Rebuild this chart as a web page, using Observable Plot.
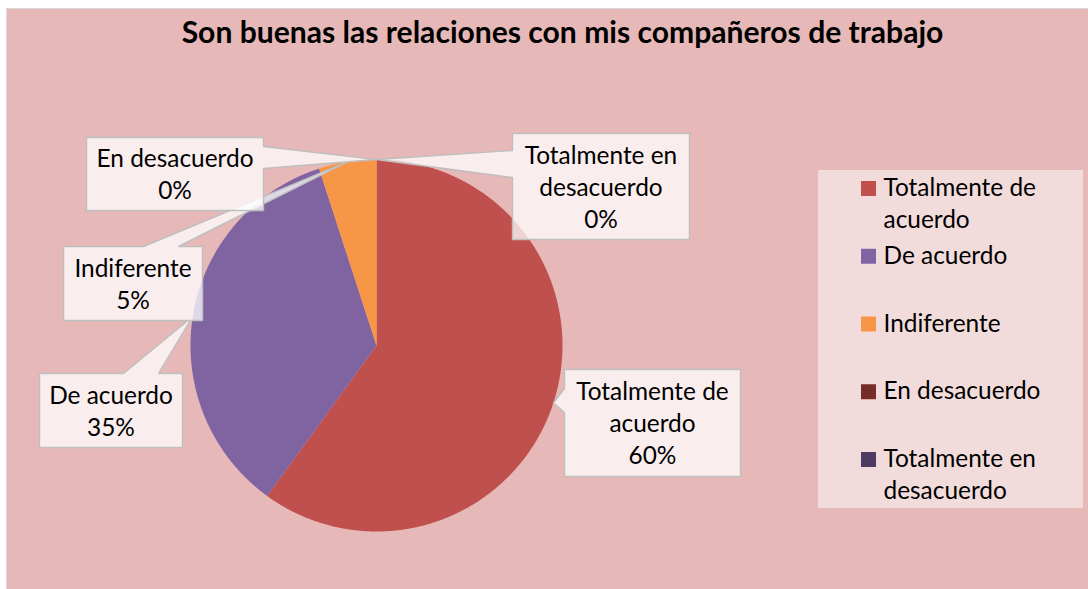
<!DOCTYPE html>
<html><head><meta charset="utf-8">
<script src="https://cdn.jsdelivr.net/npm/d3@7"></script>
<script src="https://cdn.jsdelivr.net/npm/@observablehq/plot@0.6"></script>
<style>
html,body{margin:0;padding:0;background:#fff;}
#wrap{position:relative;width:1088px;height:589px;overflow:hidden;}
#frame{position:absolute;left:6px;top:8px;right:0;bottom:0;background:#E6B8B7;border-left:1px solid #D9D9D9;border-top:1px solid #D9D9D9;}
#chart{position:absolute;left:0;top:0;}
</style></head>
<body><div id="wrap"><div id="frame"></div><div id="chart"></div></div>
<script>
// ---- data ----
const titleText = "Son buenas las relaciones con mis compañeros de trabajo";
const categories = ["Totalmente de acuerdo", "De acuerdo", "Indiferente", "En desacuerdo", "Totalmente en desacuerdo"];
const percentages = [60, 35, 5, 0, 0];

// ---- styles / layout ----
const colors = ["#C0504D", "#8064A2", "#F79646", "#772C2A", "#4D3B62"];
const W = 1088, H = 589;
const pieCenter = [376, 345], pieRadius = 186;
const calloutLayout = [
  {box: [564, 369, 740, 476], side: "left", base: [388, 412]},
  {box: [39, 373, 182, 447], side: "top", base: [123, 158]},
  {box: [63, 246, 202, 320], side: "top", base: [143, 178]},
  {box: [86, 137, 263, 210], side: "right", base: [146, 168]},
  {box: [512, 133, 689, 239], side: "left", base: [150, 177]}
];
const legendBox = [818, 170, 1083, 508];
const legendSwatchX = [861, 876], legendTextX = 883, legendTop = 188.5, legendStep = 67.75;
const lineStep = 32;

(async function () {
  try { await document.fonts.load("100px Lato"); await document.fonts.load("bold 100px Lato"); } catch (e) {}
  const ctx = document.createElement("canvas").getContext("2d");
  const measure = (t, font) => { ctx.font = font; return ctx.measureText(t).width; };
  const labelFs = 157 / measure("En desacuerdo", "100px Lato") * 100;
  const titleFs = 762 / measure(titleText, "bold 100px Lato") * 100;
  const wrap = (t, maxW) => {
    const words = t.split(" "); const lines = []; let cur = "";
    for (const w of words) {
      const test = cur ? cur + " " + w : w;
      if (cur && measure(test, `${labelFs}px Lato`) > maxW) { lines.push(cur); cur = w; } else cur = test;
    }
    if (cur) lines.push(cur);
    return lines;
  };

  // pie geometry from the data
  const arcs = d3.pie().sort(null).startAngle(0).endAngle(2 * Math.PI)(percentages);
  const px = a => pieCenter[0] + pieRadius * Math.sin(a);
  const py = a => pieCenter[1] - pieRadius * Math.cos(a);
  const sliceMarks = [];
  arcs.forEach((arc, i) => {
    if (arc.endAngle - arc.startAngle <= 0) return;
    const pts = [{x: pieCenter[0], y: pieCenter[1]}];
    const n = Math.max(2, Math.ceil((arc.endAngle - arc.startAngle) / 0.005));
    for (let k = 0; k <= n; k++) {
      const a = arc.startAngle + (arc.endAngle - arc.startAngle) * k / n;
      pts.push({x: px(a), y: py(a)});
    }
    pts.push({x: pieCenter[0], y: pieCenter[1]});
    sliceMarks.push(Plot.line(pts, {x: "x", y: "y", fill: colors[i], stroke: "none", curve: "linear"}));
  });

  // callouts
  const calloutPts = [];
  const labelRows = [];
  arcs.forEach((arc, i) => {
    const L = calloutLayout[i];
    const [x1, y1, x2, y2] = L.box;
    const mid = (arc.startAngle + arc.endAngle) / 2;
    const tip = {x: px(mid), y: py(mid)};
    let poly;
    if (L.side === "left") poly = [[x1, y1], [x2, y1], [x2, y2], [x1, y2], [x1, L.base[1]], [tip.x, tip.y], [x1, L.base[0]], [x1, y1]];
    else if (L.side === "right") poly = [[x1, y1], [x2, y1], [x2, L.base[0]], [tip.x, tip.y], [x2, L.base[1]], [x2, y2], [x1, y2], [x1, y1]];
    else poly = [[x1, y1], [L.base[0], y1], [tip.x, tip.y], [L.base[1], y1], [x2, y1], [x2, y2], [x1, y2], [x1, y1]];
    poly.forEach(([x, y]) => calloutPts.push({cat: categories[i], x, y}));
    const lines = [...wrap(categories[i], 170), percentages[i] + "%"];
    const cy = (y1 + y2) / 2;
    lines.forEach((t, k) => labelRows.push({
      x: (x1 + x2) / 2,
      y: cy - (lines.length - 1) / 2 * lineStep + 0.38 * labelFs + k * lineStep,
      text: t
    }));
  });

  // legend
  const legendRows = categories.map((c, i) => ({cat: c, color: colors[i], cy: legendTop + i * legendStep}));
  const legendTextRows = [];
  legendRows.forEach(r => {
    wrap(r.cat, 195).forEach((t, k) => legendTextRows.push({x: legendTextX, y: r.cy + 0.29 * labelFs + k * lineStep, text: t}));
  });

  const chart = Plot.plot({
    width: W, height: H, margin: 0,
    x: {domain: [0, W], range: [0, W], axis: null},
    y: {domain: [0, H], range: [0, H], axis: null},
    style: {background: "transparent", fontFamily: "Lato"},
    marks: [
      ...sliceMarks,
      Plot.line(calloutPts, {x: "x", y: "y", z: "cat", fill: "white", fillOpacity: 0.75, stroke: "#BFBFBF", strokeWidth: 1.4, strokeLinejoin: "miter", curve: "linear"}),
      Plot.text(labelRows, {x: "x", y: "y", text: "text", lineAnchor: "bottom", textAnchor: "middle", fontSize: labelFs, fill: "#000", fontFamily: "Lato"}),
      Plot.rect([legendBox], {x1: d => d[0], y1: d => d[1], x2: d => d[2], y2: d => d[3], fill: "#F2DCDB"}),
      Plot.rect(legendRows, {x1: () => legendSwatchX[0], x2: () => legendSwatchX[1], y1: d => d.cy - 7.5, y2: d => d.cy + 7.5, fill: d => d.color}),
      Plot.text(legendTextRows, {x: "x", y: "y", text: "text", lineAnchor: "bottom", textAnchor: "start", fontSize: labelFs, fill: "#000", fontFamily: "Lato"}),
      Plot.text([titleText], {x: () => 562, y: () => 42, text: d => d, lineAnchor: "bottom", textAnchor: "middle", fontSize: titleFs, fontWeight: "bold", fill: "#000", fontFamily: "Lato"})
    ]
  });
  document.getElementById("chart").appendChild(chart);
})();
</script>
</body></html>
